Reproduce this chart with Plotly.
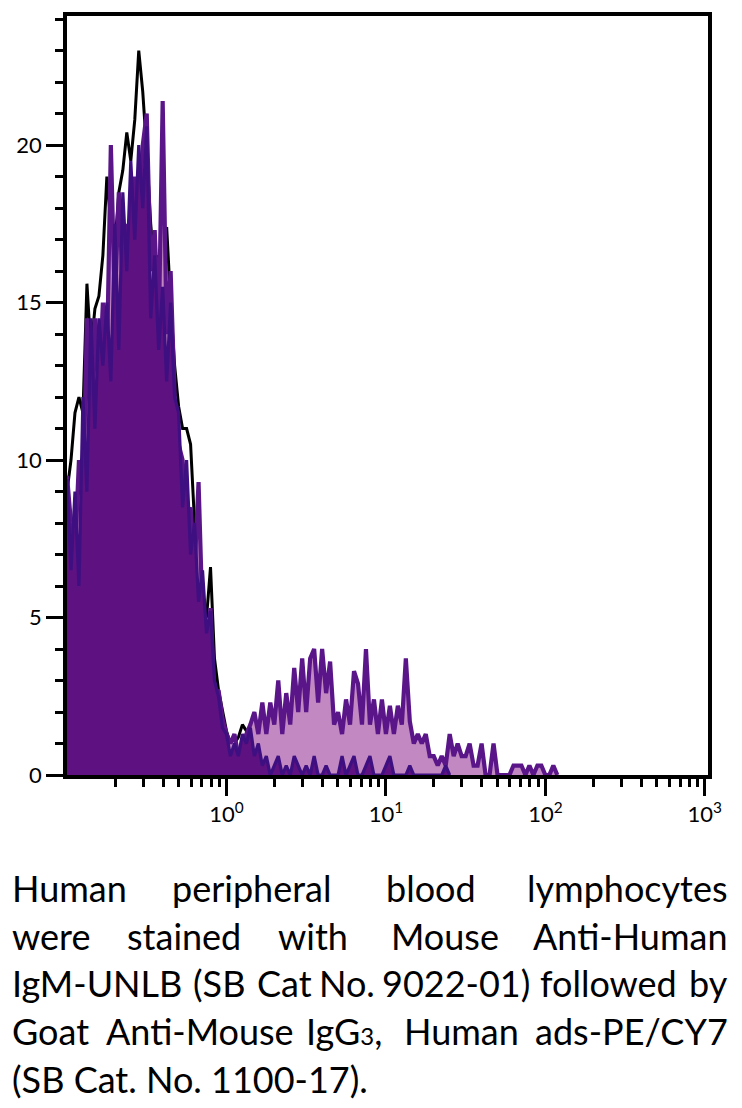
import plotly.graph_objects as go

# ---------------- data ----------------
# histogram channels: log10 fluorescence, first channel and channel width (decades)
bin_start = -1.0
bin_step = 0.025

# isotype / control (black outline)
control_black = [9.0, 10.0, 11.5, 12.0, 11.5, 15.6, 13.5, 14.8, 15.2, 16.5,
                 19.0, 17.5, 16.8, 18.5, 19.2, 20.4, 19.5, 20.8, 23.0, 21.7,
                 19.8, 17.5, 16.0, 16.5, 16.0, 17.4, 15.0, 13.0, 11.7, 11.0,
                 11.0, 10.5, 8.0, 7.0, 5.3, 5.0, 6.6, 3.7, 2.7, 2.0,
                 1.4, 1.0, 1.0, 1.2, 1.6, 1.4, 0.6, 0.0]

# dark filled histogram (indigo outline)
stain_dark = [9.4, 6.5, 9.0, 6.0, 12.0, 9.0, 14.5, 11.0, 14.5, 13.0,
              15.0, 12.5, 17.5, 13.5, 18.5, 16.0, 19.5, 17.0, 20.0, 18.0,
              20.6, 14.5, 16.5, 13.5, 15.5, 12.5, 15.0, 12.0, 11.5, 8.5,
              10.0, 7.0, 8.0, 5.5, 6.5, 4.5, 5.2, 3.0, 2.5, 1.5,
              1.3, 0.6, 1.0, 0.6, 1.3, 1.0, 1.5, 0.6, 1.0, 0.3,
              0.6, 0.0, 0.3, 0.6, 0.0, 0.3, 0.0, 0.6, 0.3, 0.0,
              0.3, 0.0, 0.6, 0.0, 0.0, 0.3, 0.0, 0.0, 0.0, 0.6,
              0.0, 0.3, 0.6, 0.0, 0.0, 0.3, 0.6, 0.0, 0.0, 0.0,
              0.3, 0.6, 0.0, 0.0, 0.0, 0.0, 0.3, 0.0, 0.0, 0.0,
              0.0, 0.0, 0.0, 0.0, 0.0, 0.3, 0.0]

# light filled histogram (purple outline), includes positive population
stain_light = [9.5, 8.0, 7.0, 10.0, 8.5, 14.5, 10.5, 14.5, 12.0, 15.0,
               13.0, 20.0, 15.0, 18.5, 15.5, 17.5, 16.0, 19.0, 17.5, 20.0,
               21.0, 16.0, 17.3, 14.0, 21.4, 14.0, 16.0, 12.0, 10.5, 10.0,
               8.0, 8.5, 6.5, 9.3, 5.0, 4.0, 5.3, 2.5, 2.7, 1.8,
               1.3, 1.0, 1.3, 0.6, 1.0, 1.3, 1.6, 2.0, 1.3, 2.3,
               1.3, 2.3, 1.6, 3.0, 1.3, 2.6, 1.6, 3.4, 2.0, 3.7,
               2.0, 3.7, 4.0, 2.3, 4.0, 2.6, 3.6, 1.6, 2.0, 1.3,
               2.4, 1.6, 3.3, 2.9, 1.6, 4.0, 1.6, 2.4, 1.3, 2.4,
               1.3, 2.2, 1.3, 2.2, 1.6, 3.7, 1.7, 1.0, 1.3, 1.0,
               1.3, 0.6, 0.6, 0.3, 0.6, 0.3, 1.3, 0.6, 1.0, 0.6,
               0.6, 1.0, 0.3, 0.3, 1.0, 0.0, 0.0, 1.0, 0.0, 0.0,
               0.0, 0.0, 0.3, 0.3, 0.3, 0.0, 0.3, 0.0, 0.3, 0.3,
               0.0, 0.0, 0.3, 0.0]

y_tick_vals = [0, 5, 10, 15, 20]
x_tick_vals = [1, 10, 100, 1000]
x_tick_text = ["10<sup>0</sup>", "10<sup>1</sup>", "10<sup>2</sup>", "10<sup>3</sup>"]

caption_lines = [
    ["Human", "peripheral", "blood", "lymphocytes"],
    ["were", "stained", "with", "Mouse", "Anti-Human"],
    ["IgM-UNLB", "(SB", "Cat", "No.", "9022-01)", "followed", "by"],
    ["Goat", "Anti-Mouse", "IgG<span style='font-size:24px'>3</span>,", "Human", "ads-PE/CY7"],
    ["(SB Cat. No. 1100-17)."],
]
# word start positions (pixels) for the justified lines; None = flush right
caption_starts = [
    [10, 170, 384, None],
    [10, 125, 276, 389, None],
    [10, 191, 255, 317, 380, 538, None],
    [10, 104, 304, 402, None],
    [10],
]
caption_rows = [888, 936, 984, 1032, 1080]

# ---------------- figure ----------------
def channels(vals):
    return [10 ** (bin_start + bin_step * i) for i in range(len(vals))]

FONT = "Lato"
CAP_SIZE = 36

fig = go.Figure()
fig.add_trace(go.Scatter(x=channels(control_black), y=control_black, mode="lines",
                         line=dict(color="#000000", width=3), hoverinfo="skip"))
fig.add_trace(go.Scatter(x=channels(stain_light), y=stain_light, mode="lines",
                         fill="tozeroy", fillcolor="#C188C1",
                         line=dict(color="#5A1689", width=4.2), hoverinfo="skip"))
fig.add_trace(go.Scatter(x=channels(stain_dark), y=stain_dark, mode="lines",
                         fill="tozeroy", fillcolor="#5E1180",
                         line=dict(color="#3E0F80", width=3.2), hoverinfo="skip"))

L, R, T, B = 67, 34, 14, 333
W, H = 742, 1108
pw, ph = W - L - R, H - T - B

def xp(px):
    return (px - L) / pw

def yp(py):
    return (H - B - py) / ph

minor_x = [m * 10 ** e for e in range(-1, 3) for m in range(2, 10)]

fig.update_layout(
    width=W, height=H,
    margin=dict(l=L, r=R, t=T, b=B, pad=0),
    paper_bgcolor="white", plot_bgcolor="white",
    showlegend=False,
    font=dict(family=FONT, color="#000000"),
    xaxis=dict(type="log", range=[-1.0, 3.02], showgrid=False, zeroline=False,
               showline=True, linecolor="#000000", linewidth=3.5, mirror=True,
               tickmode="array", tickvals=x_tick_vals, ticktext=x_tick_text,
               ticks="outside", ticklen=17, tickwidth=3, tickcolor="#000000",
               tickfont=dict(family=FONT, size=22, color="#000000"),
               minor=dict(tickmode="array", tickvals=minor_x, ticks="outside",
                          ticklen=8, tickwidth=3, tickcolor="#000000", showgrid=False)),
    yaxis=dict(range=[0, 24.1], showgrid=False, zeroline=False,
               showline=True, linecolor="#000000", linewidth=3.5, mirror=True,
               tickmode="array", tickvals=y_tick_vals,
               ticks="outside", ticklen=17, tickwidth=3, tickcolor="#000000",
               tickfont=dict(family=FONT, size=22, color="#000000"),
               minor=dict(dtick=1, tick0=0, ticks="outside", ticklen=8, tickwidth=3,
                          tickcolor="#000000", showgrid=False)),
)

for words, starts, row in zip(caption_lines, caption_starts, caption_rows):
    for w, s in zip(words, starts):
        if s is None:
            fig.add_annotation(text=w, xref="paper", yref="paper", x=xp(730), y=yp(row),
                               xanchor="right", yanchor="middle", showarrow=False,
                               font=dict(family=FONT, size=CAP_SIZE, color="#000000"))
        else:
            fig.add_annotation(text=w, xref="paper", yref="paper", x=xp(s), y=yp(row),
                               xanchor="left", yanchor="middle", showarrow=False,
                               font=dict(family=FONT, size=CAP_SIZE, color="#000000"))

fig.write_html("out.html")
